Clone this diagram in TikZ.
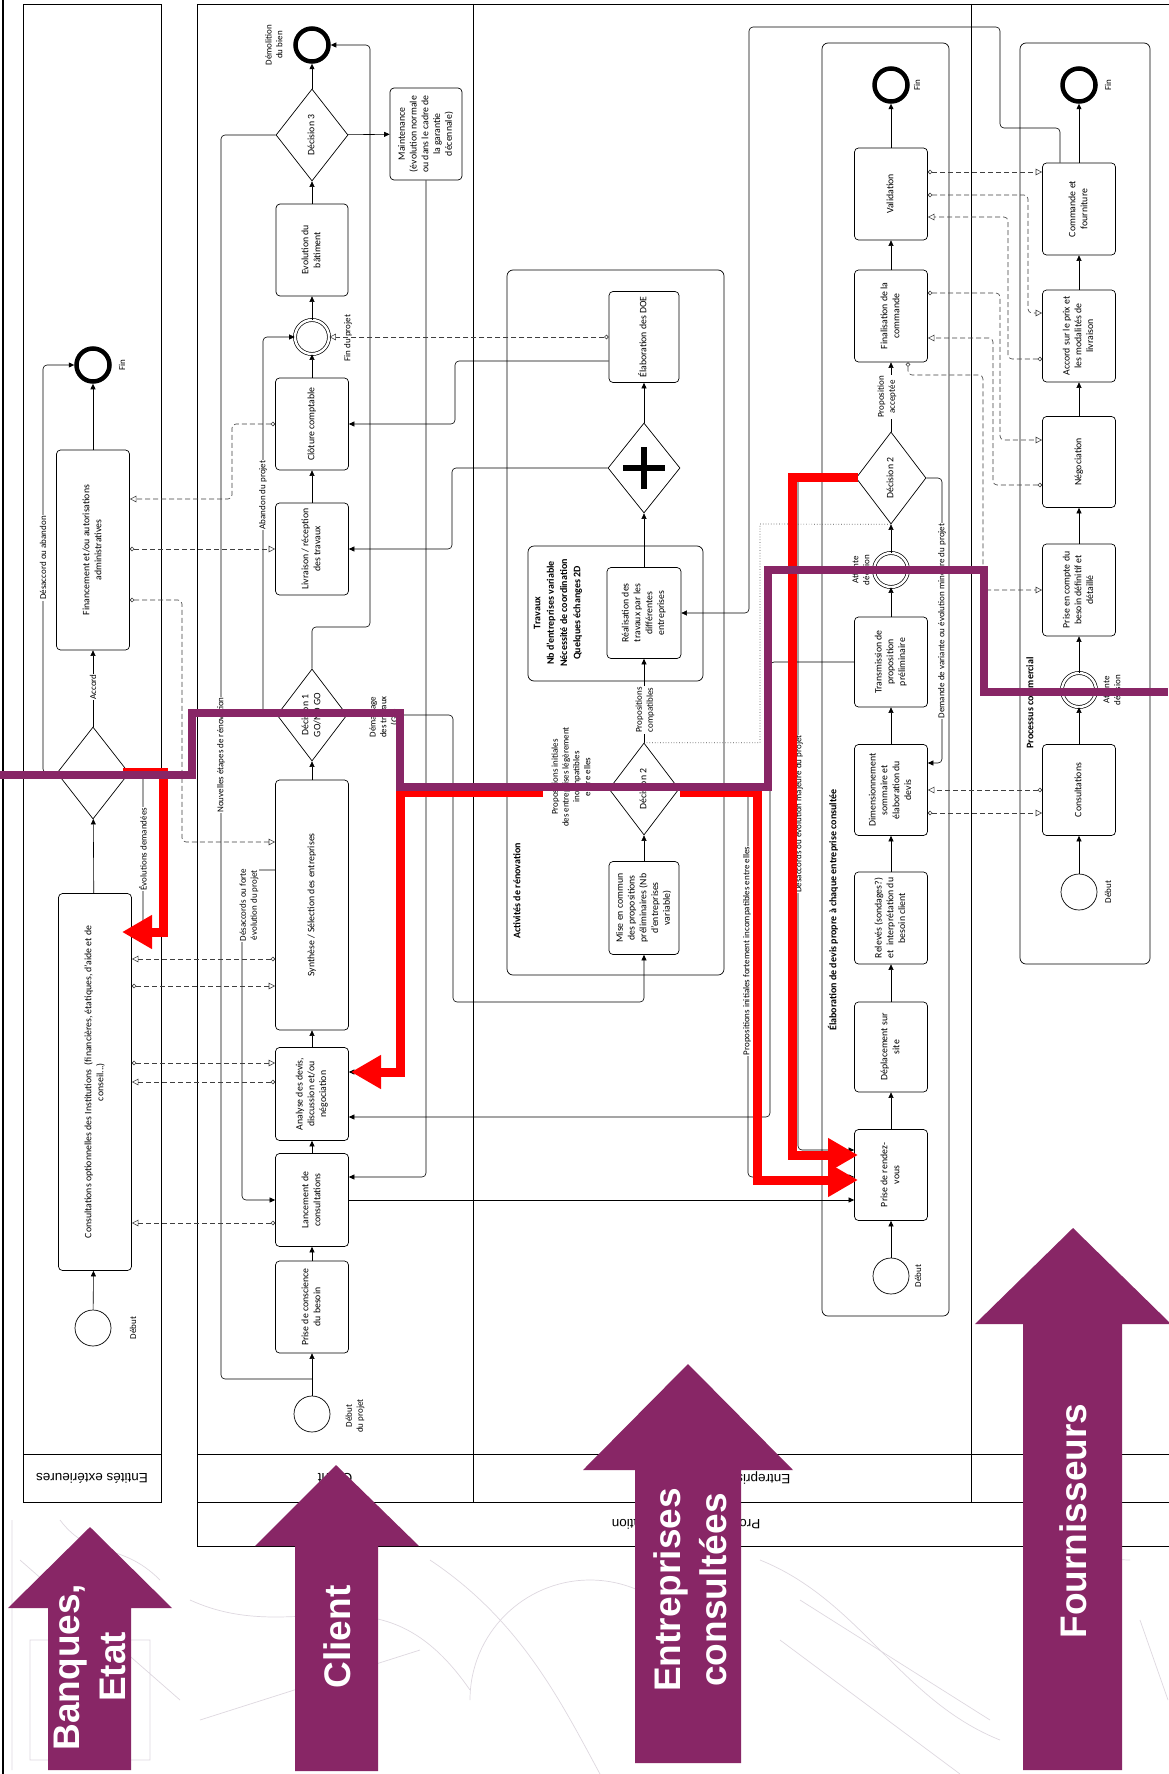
\documentclass[tikz,border=0pt]{standalone}
\usepackage{fontspec}
\setmainfont{Carlito}
\newfontfamily\arialf{Liberation Sans}
\usepackage{graphicx}
\usetikzlibrary{arrows.meta,shapes.geometric}
\definecolor{plum}{RGB}{136,38,102}
\definecolor{redx}{RGB}{255,0,0}
\definecolor{sketch}{RGB}{222,216,224}
\newcommand{\rt}[1]{\rotatebox{90}{\begin{tabular}{@{}c@{}}#1\end{tabular}}}
\tikzset{
 lane/.style={draw, line width=0.8pt},
 lanetext/.style={rotate=180, font=\arialf\fontsize{13.5}{15}\selectfont},
 task/.style={draw, rounded corners=4pt, line width=0.7pt, fill=white, inner sep=0pt, minimum width=73pt, font=\fontsize{9.8}{11.8}\selectfont},
 gate/.style={draw, diamond, line width=0.7pt, fill=white, inner sep=0pt, minimum width=71pt, minimum height=92pt, font=\fontsize{9.8}{11.8}\selectfont},
 startev/.style={draw, circle, line width=0.7pt, fill=white, minimum size=36pt, inner sep=0pt},
 endev/.style={draw, circle, line width=4.5pt, fill=white, minimum size=33pt, inner sep=0pt},
 midev/.style={draw, circle, double, double distance=2.4pt, line width=0.7pt, fill=white, minimum size=34pt, inner sep=0pt},
 container/.style={draw, rounded corners=6pt, line width=0.7pt},
 seq/.style={draw, line width=0.6pt, rounded corners=4pt, arrows={-Triangle[length=5.5pt,width=5pt]}},
 seqline/.style={draw, line width=0.6pt, rounded corners=4pt},
 msg/.style={draw=black!75, line width=0.6pt, dash pattern=on 5pt off 3pt, rounded corners=4pt, arrows={Circle[open,length=4.5pt,width=4.5pt]-Triangle[open,length=6.5pt,width=6.5pt]}},
 lbl/.style={fill=white, inner sep=0.8pt, rotate=90, align=center},
 txt/.style={inner sep=0.8pt, rotate=90, align=center},
 boldlbl/.style={inner sep=0.8pt, rotate=90, align=center, font=\bfseries\fontsize{10}{12}\selectfont},
 hilite/.style={draw=redx, line width=9pt, arrows={-Triangle[length=30pt,width=32pt]}},
 bigtext/.style={text=white, rotate=90, align=center, font=\arialf\bfseries\fontsize{37}{46}\selectfont},
 every node/.style={font=\fontsize{9}{10.8}\selectfont}
}
\begin{document}
\begin{tikzpicture}[x=1pt,y=-1pt]
\useasboundingbox (0,0) rectangle (1168,1774);
\fill[white] (0,0) rectangle (1168,1774);

% ---------- faint background sketch
\begin{scope}[draw=sketch, line width=0.7pt]
\draw (20,1560) -- (180,1700) (30,1640) rectangle (150,1760);
\draw (190,1600) .. controls (300,1650) and (380,1560) .. (470,1690);
\draw (430,1560) .. controls (520,1620) and (560,1700) .. (600,1774);
\draw (470,1700) arc (180:300:120);
\draw (760,1560) .. controls (860,1600) and (900,1700) .. (1000,1740);
\draw (780,1640) -- (960,1774) (800,1600) -- (990,1720);
\draw (1130,1560) arc (90:200:90);
\draw (1140,1620) -- (1168,1700) (200,1720) -- (420,1650);
\draw (12,1520) -- (12,1770) (60,1520) .. controls (90,1560) and (120,1540) .. (160,1580);
\end{scope}

% ---------- lanes and pool
\draw[lane] (23,4) rectangle (161,1502);
\draw[lane] (23,1454) -- (161,1454);
\draw[lane] (1175,4) -- (197,4) -- (197,1546) -- (1175,1546);
\draw[lane] (197,1454) -- (1175,1454) (197,1502) -- (1175,1502);
\draw[lane] (473,4) -- (473,1502) (971,4) -- (971,1502);
\draw[line width=2.5pt] (3,0) -- (3,1774);
\node[lanetext] (lE) at (92,1478) {Entités extérieures};
\node[lanetext] (lC) at (335,1478) {Client};
\node[lanetext] (lEn) at (722,1478) {Entreprises consultées};
\node[lanetext] (lP) at (686,1524) {Processus de rénovation};

% ---------- containers
\draw[container] (507,270) rectangle (724,975);
\draw[container] (528,546) rectangle (703,681);
\draw[container] (822,43) rectangle (949,1316);
\draw[container] (1020,43) rectangle (1150,964);
\node[boldlbl] (tAct) at (517,891) {Activités de rénovation};
\node[boldlbl, font=\bfseries\fontsize{10}{13.3}\selectfont] (tTrav) at (558,613) {Travaux\\Nb d’entreprises variable\\Nécessité de coordination\\Quelques échanges 2D};
\node[boldlbl] (tElab) at (833,910) {Élaboration de devis propre à chaque entreprise consultée};
\node[boldlbl] (tProc) at (1030,703) {Processus commercial};

% ---------- Entites exterieures
\node[startev] (startE) at (93,1328) {};
\node[task, minimum height=377pt] (cons) at (95,1082) {\rt{Consultations optionnelles des Institutions \ (financières, étatiques, d’aide et de\\conseil...)}};
\node[gate, minimum width=72pt] (gwE) at (93,773) {};
\node[task, minimum height=200pt] (fin) at (93,550) {\rt{Financement et/ou autorisations\\administratives}};
\node[endev] (endE) at (93,365) {};
\node[txt] (tEndE) at (122,365) {Fin};
\node[txt] (tStartE) at (133,1328) {Début};

% ---------- Client
\node[startev] (startC) at (312,1414) {};
\node[task, minimum height=92pt] (prise) at (312,1307) {\rt{Prise de conscience\\du besoin}};
\node[task, minimum height=93pt] (lanc) at (312,1200) {\rt{Lancement de\\consultations}};
\node[task, minimum height=93pt] (analyse) at (312,1094) {\rt{Analyse des devis,\\discussion et/ou\\négociation}};
\node[task, minimum height=250pt] (synth) at (312,905) {\rt{Synthèse / Sélection des entreprises}};
\node[gate, minimum width=70pt] (dec1) at (312,715) {\rt{Décision 1\\GO/NO GO}};
\node[task, minimum height=92pt] (livr) at (312,549) {\rt{Livraison / réception\\des travaux}};
\node[task, minimum height=92pt] (clot) at (312,424) {\rt{Clôture comptable}};
\node[midev] (finproj) at (312,337) {};
\node[task, minimum height=92pt, minimum width=72pt] (evol) at (312,250) {\rt{Evolution du\\bâtiment}};
\node[gate, minimum width=72pt] (dec3) at (312,135) {\rt{Décision 3}};
\node[endev] (demol) at (312,45) {};
\node[task, minimum height=92pt, minimum width=72pt] (maint) at (426,134) {\rt{Maintenance\\(évolution normale\\ou dans le cadre de\\la garantie\\décennale)}};
\node[txt] (tDemol) at (274,45) {Démolition\\du bien};
\node[txt] (tFinP) at (348,338) {Fin du projet};
\node[txt] (tDebP) at (355,1416) {Début\\du projet};

% ---------- Activites de renovation
\node[task, minimum width=70pt, minimum height=91pt] (doe) at (644,337) {\rt{Élaboration des DOE}};
\node[gate, minimum width=72pt, minimum height=90pt] (plus) at (644,468) {};
\draw[line width=6.5pt] (623,468) -- (665,468) (644,447) -- (644,489);
\node[task, minimum width=74pt, minimum height=91pt] (real) at (644,613) {\rt{Réalisation des\\travaux par les\\différentes\\entreprises}};
\node[gate, minimum width=70pt] (dec2a) at (644,789) {\rt{Décision 2}};
\node[task, minimum width=70pt, minimum height=93pt] (mise) at (644,908) {\rt{Mise en commun\\des propositions\\préliminaires (Nb\\d’entreprises\\variable)}};

% ---------- Elaboration de devis
\node[startev] (startD) at (891,1276) {};
\node[task, minimum height=91pt] (rdv) at (891,1175) {\rt{Prise de rendez-\\vous}};
\node[task, minimum height=90pt] (depl) at (891,1047) {\rt{Déplacement sur\\site}};
\node[task, minimum height=92pt] (relev) at (891,918) {\rt{Relevés (sondages?)\\et \ interprétation du\\besoin client}};
\node[task, minimum height=91pt] (dim) at (891,790) {\rt{Dimensionnement\\sommaire et\\élaboration du\\devis}};
\node[task, minimum height=90pt] (trans) at (891,662) {\rt{Transmission de\\proposition\\préliminaire}};
\node[midev] (att1) at (891,570) {};
\node[gate, minimum width=70pt] (dec2b) at (891,478) {\rt{Décision 2}};
\node[task, minimum height=92pt] (final) at (891,316) {\rt{Finalisation de la\\commande}};
\node[task, minimum height=92pt] (valid) at (891,194) {\rt{Validation}};
\node[endev] (endD) at (891,85) {};
\node[txt] (tEndD) at (917,85) {Fin};
\node[txt] (tStartD) at (918,1276) {Début};
\node[txt] (tAtt1) at (861,570) {Attente\\décision};

% ---------- Fournisseurs
\node[startev] (startF) at (1079,892) {};
\node[task, minimum height=91pt] (consF) at (1079,790) {\rt{Consultations}};
\node[midev] (att2) at (1079,690) {};
\node[task, minimum height=92pt] (prisF) at (1079,590) {\rt{Prise en compte du\\besoin définitif et\\détaillé}};
\node[task, minimum height=91pt] (nego) at (1079,462) {\rt{Négociation}};
\node[task, minimum height=92pt] (accord) at (1079,336) {\rt{Accord sur le prix et\\les modalités de\\livraison}};
\node[task, minimum height=92pt] (cmd) at (1079,209) {\rt{Commande et\\fourniture}};
\node[endev] (endF) at (1079,85) {};
\node[txt] (tEndF) at (1108,85) {Fin};
\node[txt] (tStartF) at (1108,892) {Début};
\node[txt] (tAtt2) at (1112,690) {Attente\\décision};

% ---------- sequence flows
\draw[seq] (startE) -- (cons);
\draw[seq] (cons) -- (gwE);
\draw[seq] (gwE) -- (fin);
\draw[seq] (fin) -- (endE);
\draw[seq] (gwE.west) -- (43,773) |- (endE.west);
\draw[seq] (gwE.east) -- (143,773) -- (143,932) -- (cons.east |- 0,932);

\draw[seq] (startC) -- (prise);
\draw[seq] (prise) -- (lanc);
\draw[seq] (lanc) -- (analyse);
\draw[seq] (analyse) -- (synth);
\draw[seq] (synth) -- (dec1);
\draw[seq] (dec1.north) |- (370,627) |- (demol.east);
\draw[seq] (dec1.west) -- (263,715) |- (finproj.west);
\draw[seq] (dec1.east) -- (453,715) -- (453,1002) -| (mise.south);
\draw[seq] (livr) -- (clot);
\draw[seq] (clot) -- (finproj);
\draw[seq] (finproj) -- (evol);
\draw[seq] (evol) -- (dec3);
\draw[seq] (dec3) -- (demol);
\draw[seq] (dec3) -- (maint);
\draw[seqline] (dec3.west) -| (221,1379) -- (startC.north |- 0,1379);
\draw[seq] (maint.south) -- (426,1177) -- (lanc.east |- 0,1177);
\draw[seq] (synth.west |- 0,870) -- (242,870) -- (242,1200) -- (lanc.west);
\draw[seq] (lanc.east) -- (rdv.west |- lanc.east);

\draw[seq] (plus.west) -- (452,468) |- (livr.east);
\draw[seq] (doe.west |- 0,361) -- (455,361) |- (clot.east);
\draw[seq] (plus) -- (doe);
\draw[seq] (real) -- (plus);
\draw[seq] (dec2a) -- (real);
\draw[seq] (mise) -- (dec2a);
\draw[seq] (dec2a.west) -- (402,789) -- (402,1072) -- (analyse.east |- 0,1072);
\draw[seq] (dec2a.east) -- (748,789) -- (748,1177) -- (rdv.west |- 0,1177);
\draw[seq] (trans.west) -- (770,662) -- (770,1117) -- (analyse.east |- 0,1117);
\draw[seq] (cmd.north -| 1060,0) -- (1060,128) -- (1000,128) -- (1000,27) -- (749,27) -- (749,613) -- (real.east);
\draw[dotted, line width=0.7pt, black!70] (dec2a.north) -| (760,524) -- (dec2b.south);

\draw[seq] (startD) -- (rdv);
\draw[seq] (rdv) -- (depl);
\draw[seq] (depl) -- (relev);
\draw[seq] (relev) -- (dim);
\draw[seq] (dim) -- (trans);
\draw[seq] (trans) -- (att1);
\draw[seq] (att1) -- (dec2b);
\draw[seq] (dec2b) -- (final);
\draw[seq] (final) -- (valid);
\draw[seq] (valid) -- (endD);
\draw[seq] (dec2b.east) -- (942,478) -- (942,763) -- (dim.east |- 0,763);
\draw[seq] (dec2b.west) -- (798,478) -- (798,1150) -- (rdv.west |- 0,1150);

\draw[seq] (startF) -- (consF);
\draw[seq] (consF) -- (att2);
\draw[seq] (att2) -- (prisF);
\draw[seq] (prisF) -- (nego);
\draw[seq] (nego) -- (accord);
\draw[seq] (accord) -- (cmd);
\draw[seq] (cmd) -- (endF);

% ---------- message flows
\draw[msg] (clot.west) -- (232,424) -- (232,499) -- (fin.east |- 0,499);
\draw[msg] (fin.east |- 0,549) -- (livr.west);
\draw[msg] (fin.east |- 0,600) -- (182,600) -- (182,842) -- (synth.west |- 0,842);
\draw[msg] (synth.west |- 0,959) -- (cons.east |- 0,959);
\draw[msg] (cons.east |- 0,986) -- (synth.west |- 0,986);
\draw[msg] (cons.east |- 0,1063) -- (analyse.west |- 0,1063);
\draw[msg] (analyse.west |- 0,1082) -- (cons.east |- 0,1082);
\draw[msg] (lanc.west |- 0,1223) -- (cons.east |- 0,1223);
\draw[msg] (doe.west |- 0,337) -- (finproj.east);
\draw[msg] (valid.east |- 0,172) -- (cmd.west |- 0,172);
\draw[msg] (valid.east |- 0,195) -- (1028,195) -- (1028,313) -- (accord.west |- 0,313);
\draw[msg] (accord.west |- 0,359) -- (1008,359) -- (1008,217) -- (valid.east |- 0,217);
\draw[msg] (final.east |- 0,293) -- (1000,293) -- (1000,440) -- (nego.west |- 0,440);
\draw[msg] (nego.west |- 0,485) -- (993,485) -- (993,338) -- (final.east |- 0,338);
\draw[msg] (final.south -| 908,0) -- (908,375) -- (983,375) -- (983,590) -- (prisF.west);
\draw[msg] (consF.west |- 0,790) -- (dim.east |- 0,790);
\draw[msg] (dim.east |- 0,813) -- (consF.west |- 0,813);

% ---------- connector labels
\node[lbl] (lAccord) at (93,687) {Accord};
\node[lbl] (lDes) at (43,558) {Désaccord ou abandon};
\node[lbl] (lEvo) at (143,849) {Évolutions demandées};
\node[lbl] (lAband) at (263,495) {Abandon du projet};
\node[lbl] (lNouv) at (221,755) {Nouvelles étapes de rénovation};
\node[lbl] (lDem) at (384,717) {Démarrage\\des travaux\\(GO)};
\node[lbl] (lDesF) at (249,905) {Désaccords ou forte\\évolution du projet};
\node[lbl] (lComp) at (645,710) {Propositions\\compatibles};
\node[lbl] (lLeg) at (571,777) {Propositions initiales\\des entreprises légèrement\\incompatibles\\entre elles};
\node[lbl] (lFort) at (747,951) {Propositions initiales fortement incompatibles entre elles};
\node[lbl] (lMaj) at (799,814) {Désaccords ou évolution majeure du projet};
\node[lbl] (lMin) at (942,621) {Demande de variante ou évolution mineure du projet};
\node[lbl] (lAcc) at (887,397) {Proposition\\acceptée};

% ---------- red highlights
\draw[hilite] (123,772) -- (163,772) -- (163,932) -- (122,932);
\draw[hilite] (543,792) -- (400,792) -- (400,1072) -- (351,1072);
\draw[hilite] (680,792) -- (757,792) -- (757,1180) -- (858,1180);
\draw[hilite] (858,477) -- (792,477) -- (792,1155) -- (858,1155);

% ---------- purple boundary
\draw[plum, line width=8pt] (0,775) -- (192,775) -- (192,713) -- (400,713) -- (400,787) -- (768,787) -- (768,570) -- (984,570) -- (984,692) -- (1168,692);

% ---------- big arrows
\fill[plum] (90,1527) -- (172,1608) -- (131,1608) -- (131,1770) -- (48,1770) -- (48,1608) -- (8,1608) -- cycle;
\node[bigtext] (aB) at (90,1667) {Banques,\\Etat};
\fill[plum] (336,1465) -- (419,1546) -- (378,1546) -- (378,1771) -- (295,1771) -- (295,1546) -- (255,1546) -- cycle;
\node[bigtext] (aC) at (337,1637) {Client};
\fill[plum] (688,1364) -- (793,1470) -- (741,1470) -- (741,1763) -- (635,1763) -- (635,1470) -- (583,1470) -- cycle;
\node[bigtext] (aE) at (690,1590) {Entreprises\\consultées};
\fill[plum] (1073,1228) -- (1171,1324) -- (1122,1324) -- (1122,1770) -- (1023,1770) -- (1023,1324) -- (975,1324) -- cycle;
\node[bigtext] (aF) at (1073,1521) {Fournisseurs};
\end{tikzpicture}
\end{document}
